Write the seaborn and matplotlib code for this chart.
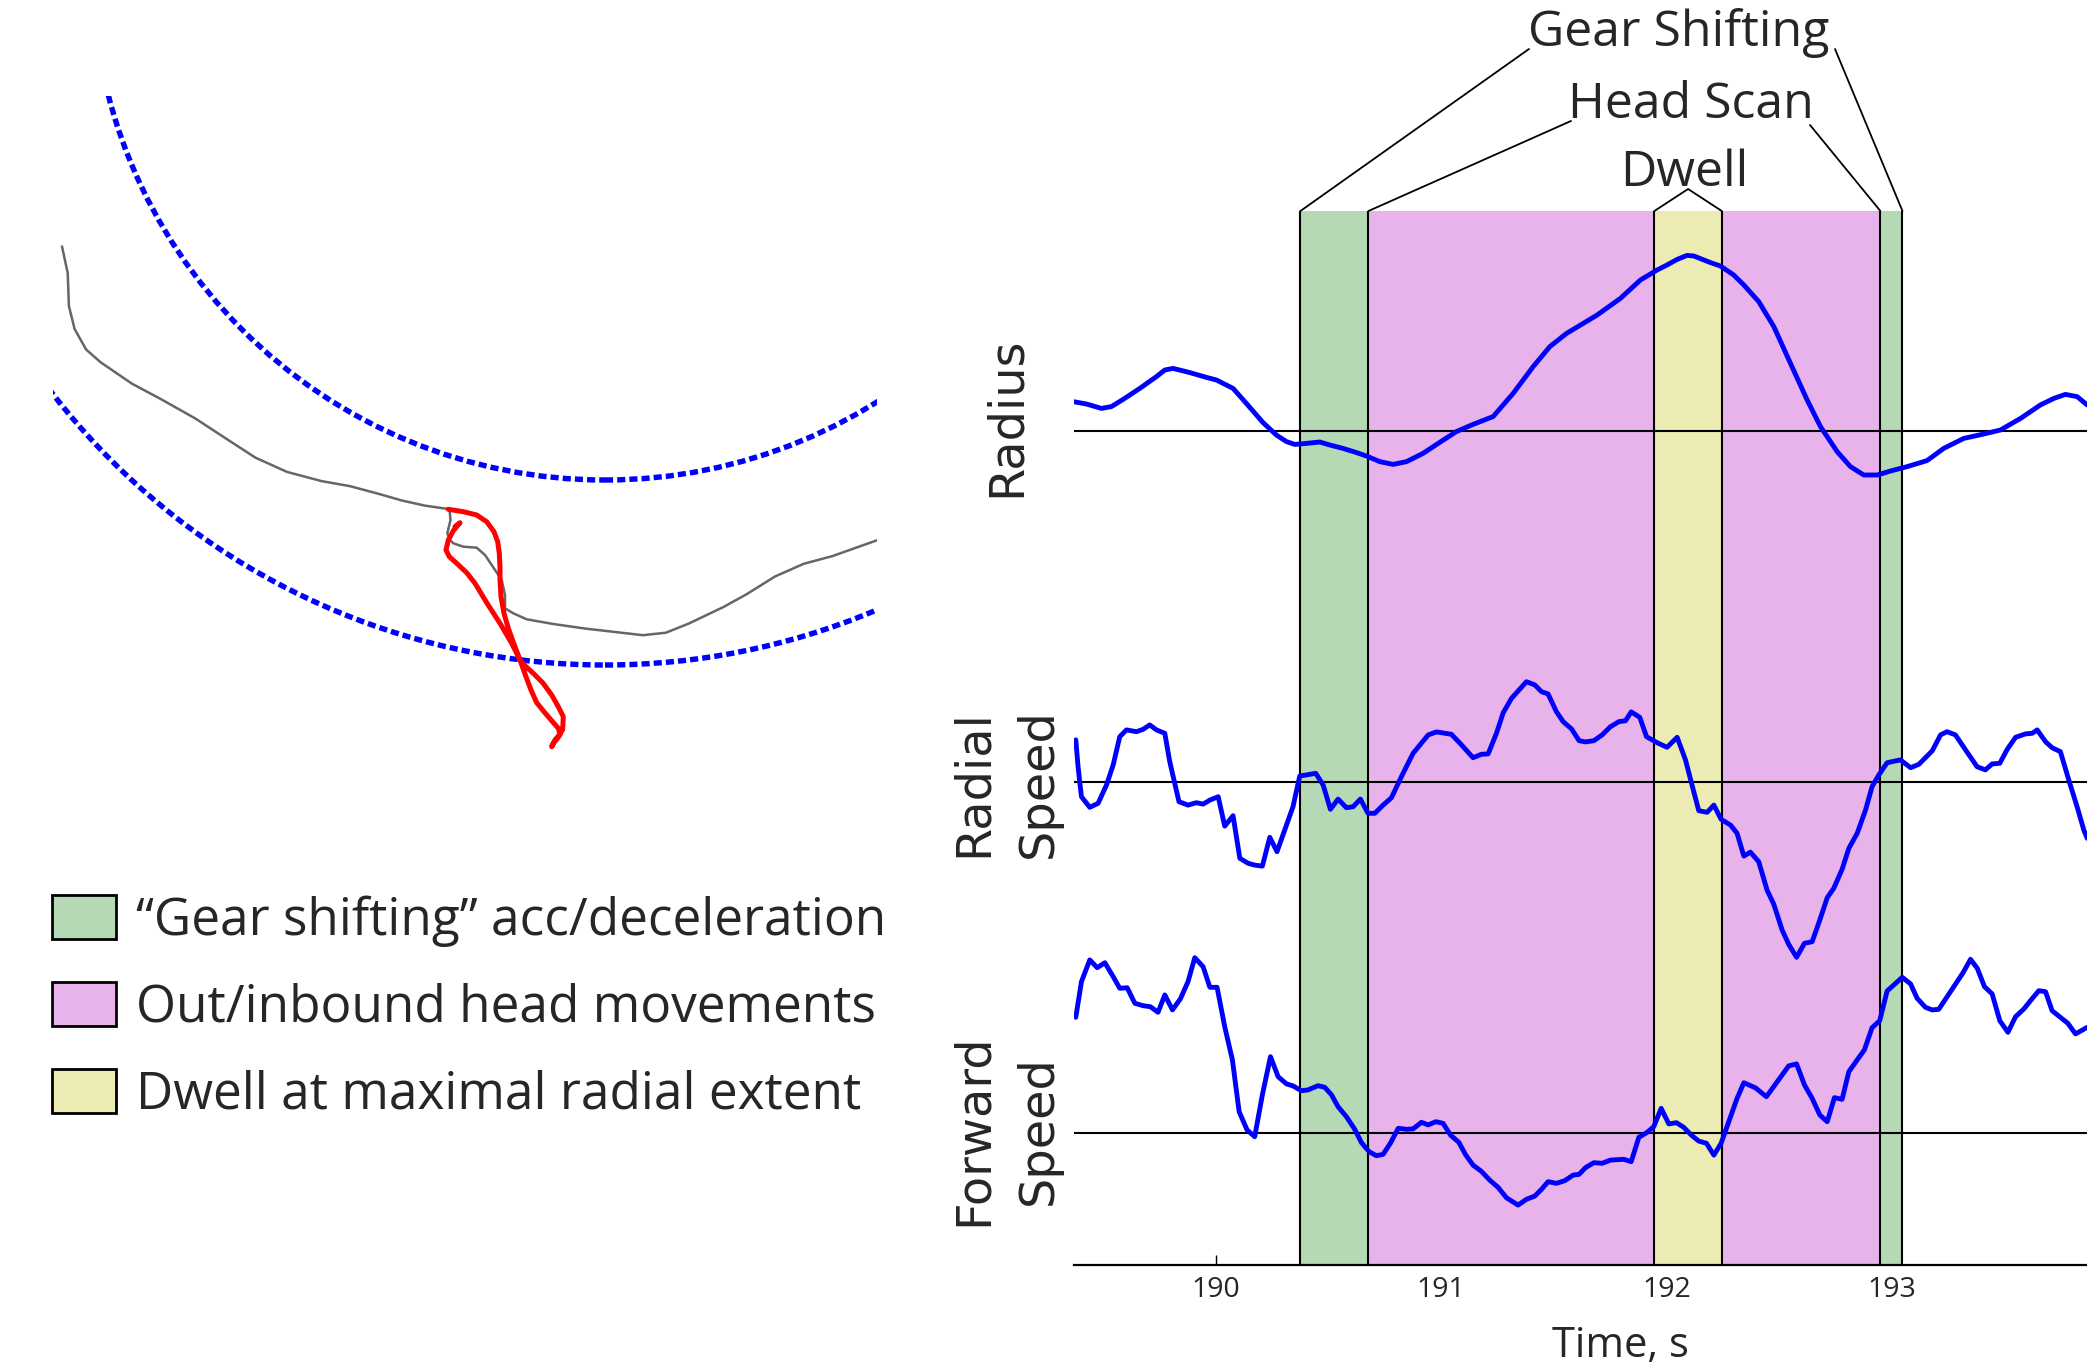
import matplotlib
matplotlib.use("Agg")
import matplotlib.pyplot as plt
import seaborn as sns
from matplotlib.patches import Circle, Patch
from matplotlib.lines import Line2D

# ---------------------------------------------------------------- data
# Time axis (s)
time_ticks = [190, 191, 192, 193]
time_range = (189.371, 193.867)

# Behavioural epochs (s)
gear_spans = [(190.376, 190.678), (192.950, 193.048)]
scan_span = (190.678, 192.950)
dwell_span = (191.947, 192.246)

# Radius (relative to the reference radius)
radius_time = [189.367, 189.426, 189.493, 189.537, 189.589, 189.663, 189.737, 189.774, 189.811, 189.885,
               189.959, 190.003, 190.077, 190.136, 190.210, 190.269, 190.314, 190.351, 190.403, 190.462,
               190.506, 190.565, 190.625, 190.669, 190.728, 190.787, 190.847, 190.920, 190.994, 191.068,
               191.142, 191.231, 191.320, 191.409, 191.483, 191.557, 191.631,
               191.693, 191.796, 191.885, 191.959, 192.003, 192.048, 192.092, 192.122, 192.196, 192.240,
               192.299, 192.344, 192.410, 192.477, 192.551, 192.625, 192.684, 192.758, 192.817, 192.876,
               192.936, 192.995, 193.069, 193.157, 193.231, 193.320, 193.409, 193.483, 193.572, 193.660,
               193.720, 193.771, 193.823, 193.868]
radius_value = [1.47, 1.35, 1.13, 1.22, 1.58, 2.13, 2.72, 3.05, 3.13, 2.92,
                2.68, 2.55, 2.13, 1.38, 0.42, -0.20, -0.53, -0.67, -0.62, -0.55,
                -0.70, -0.87, -1.08, -1.25, -1.53, -1.67, -1.53, -1.12, -0.57, -0.03,
                0.33, 0.72, 1.88, 3.22, 4.22, 4.88, 5.38,
                5.80, 6.63, 7.55, 8.05, 8.30, 8.58, 8.78, 8.75, 8.42, 8.25,
                7.80, 7.30, 6.47, 5.22, 3.38, 1.55, 0.22, -1.03, -1.78, -2.20,
                -2.20, -2.00, -1.78, -1.48, -0.87, -0.37, -0.15, 0.05, 0.63, 1.30,
                1.63, 1.83, 1.72, 1.30]

# Radial speed
radial_time = [189.379, 189.389, 189.404, 189.441, 189.478, 189.515, 189.545, 189.574, 189.604, 189.648,
               189.678, 189.707, 189.737, 189.774, 189.796, 189.818, 189.837, 189.877, 189.914, 189.944,
               189.974, 190.011, 190.040, 190.077, 190.107, 190.144, 190.173, 190.207, 190.240, 190.272,
               190.306, 190.343, 190.373, 190.403, 190.444, 190.477, 190.509, 190.543, 190.580, 190.610,
               190.642, 190.676, 190.706, 190.743, 190.780, 190.824, 190.876, 190.943, 190.980, 191.046,
               191.091, 191.142, 191.179, 191.209, 191.246, 191.276, 191.313, 191.379, 191.416, 191.446,
               191.475, 191.512, 191.542, 191.579, 191.613,
               191.641, 191.678, 191.715, 191.752, 191.789, 191.819, 191.844, 191.882, 191.912, 191.959,
               192.003, 192.048, 192.085, 192.114, 192.144, 192.181, 192.211, 192.243, 192.285, 192.314,
               192.344, 192.373, 192.410, 192.447, 192.477, 192.514, 192.543, 192.578, 192.613, 192.647,
               192.681, 192.714, 192.743, 192.780, 192.810, 192.847, 192.884, 192.913, 192.943, 192.980,
               193.039, 193.084, 193.121, 193.180, 193.217, 193.246, 193.283, 193.328, 193.379, 193.416,
               193.446, 193.480, 193.513, 193.550, 193.594, 193.624, 193.646, 193.683, 193.712, 193.749,
               193.786, 193.823, 193.853, 193.868]
radial_value = [2.12, 0.78, -0.72, -1.25, -1.05, -0.14, 0.87, 2.28, 2.62, 2.53,
                2.65, 2.87, 2.62, 2.45, 1.03, -0.05, -0.97, -1.14, -1.02, -1.09,
                -0.89, -0.72, -2.19, -1.67, -3.80, -4.05, -4.14, -4.19, -2.75, -3.47,
                -2.39, -1.22, 0.32, 0.37, 0.45, -0.14, -1.35, -0.84, -1.27, -1.22,
                -0.84, -1.55, -1.55, -1.14, -0.77, 0.28, 1.45, 2.37, 2.52, 2.40,
                1.87, 1.23, 1.40, 1.42, 2.45, 3.48, 4.20, 5.03, 4.87, 4.53,
                4.42, 3.53, 3.03, 2.67, 2.08,
                2.02, 2.08, 2.37, 2.78, 3.03, 3.08, 3.52, 3.25, 2.28, 1.98,
                1.75, 2.25, 1.12, -0.14, -1.42, -1.50, -1.14, -1.85, -2.14, -2.55,
                -3.69, -3.49, -3.97, -5.39, -6.10, -7.39, -8.10, -8.75, -8.05, -7.97,
                -6.89, -5.77, -5.30, -4.35, -3.30, -2.55, -1.39, -0.22, 0.37, 0.98,
                1.12, 0.73, 0.90, 1.57, 2.37, 2.53, 2.37, 1.62, 0.78, 0.62,
                0.92, 0.95, 1.65, 2.25, 2.42, 2.45, 2.62, 2.03, 1.73, 1.53,
                0.12, -1.22, -2.39, -2.80]

# Forward speed
forward_time = [189.379, 189.404, 189.441, 189.474, 189.508, 189.545, 189.574, 189.607, 189.641, 189.678,
                189.710, 189.744, 189.774, 189.808, 189.843, 189.877, 189.907, 189.944, 189.974, 190.006,
                190.040, 190.074, 190.104, 190.139, 190.173, 190.207, 190.243, 190.277, 190.314, 190.343,
                190.380, 190.410, 190.454, 190.484, 190.514, 190.543, 190.580, 190.617, 190.647, 190.681,
                190.713, 190.743, 190.775, 190.810, 190.847, 190.876, 190.913, 190.943, 190.977, 191.009,
                191.042, 191.079, 191.110, 191.142, 191.179, 191.216, 191.253, 191.290, 191.342, 191.379,
                191.416, 191.446, 191.475, 191.512, 191.549, 191.586, 191.613,
                191.641, 191.678, 191.715, 191.752, 191.811, 191.844, 191.878, 191.915, 191.944, 191.977,
                192.011, 192.045, 192.077, 192.114, 192.144, 192.178, 192.211, 192.243, 192.277, 192.314,
                192.344, 192.396, 192.444, 192.492, 192.543, 192.578, 192.613, 192.647, 192.681, 192.714,
                192.746, 192.780, 192.810, 192.847, 192.879, 192.913, 192.947, 192.980, 193.010, 193.047,
                193.084, 193.113, 193.150, 193.180, 193.209, 193.246, 193.283, 193.317, 193.350, 193.380,
                193.412, 193.446, 193.480, 193.516, 193.550, 193.587, 193.616, 193.653, 193.683, 193.712,
                193.749, 193.782, 193.816, 193.868]
forward_value = [5.77, 7.55, 8.64, 8.25, 8.50, 7.80, 7.22, 7.25, 6.47, 6.35,
                 6.30, 6.02, 6.89, 6.14, 6.69, 7.55, 8.75, 8.30, 7.27, 7.27,
                 5.30, 3.64, 1.05, 0.14, -0.20, 1.89, 3.80, 2.80, 2.44, 2.34,
                 2.10, 2.14, 2.35, 2.27, 1.89, 1.30, 0.80, 0.17, -0.50, -0.95,
                 -1.15, -1.08, -0.53, 0.22, 0.17, 0.19, 0.52, 0.39, 0.55, 0.47,
                 -0.12, -0.48, -1.12, -1.62, -1.93, -2.37, -2.73, -3.25, -3.62, -3.33,
                 -3.17, -2.83, -2.45, -2.53, -2.40, -2.12, -2.08,
                 -1.75, -1.50, -1.53, -1.37, -1.33, -1.45, -0.23, 0.02, 0.30, 1.22,
                 0.44, 0.50, 0.27, -0.15, -0.42, -0.53, -1.12, -0.53, 0.55, 1.72,
                 2.50, 2.24, 1.80, 2.55, 3.34, 3.44, 2.39, 1.72, 0.89, 0.55,
                 1.75, 1.67, 3.05, 3.64, 4.14, 5.25, 5.60, 7.09, 7.39, 7.77,
                 7.44, 6.72, 6.27, 6.14, 6.17, 6.80, 7.42, 8.00, 8.67, 8.22,
                 7.30, 6.94, 5.60, 5.02, 5.80, 6.19, 6.60, 7.10, 7.05, 6.10,
                 5.77, 5.47, 4.94, 5.27]

# Arena (cm, centre at origin): track walls and trajectories
arena_radii = [51.3, 69.8]
body_x = [-54.30, -53.73, -53.61, -53.04, -51.89, -50.45, -47.30, -44.43, -40.98, -38.11,
          -34.95, -31.80, -28.35, -25.48, -22.61, -20.32, -18.02, -15.55, -15.45, -15.77,
          -15.50, -15.17, -14.17, -12.83, -12.00, -11.33, -10.33, -10.00, -10.00, -9.17,
          -7.83, -5.17, -1.95, 3.80, 6.10, 8.39, 11.83, 14.13, 17.00, 19.87,
          22.74, 25.61, 27.20]
body_y = [-27.94, -30.60, -33.90, -36.20, -38.25, -39.52, -41.67, -43.20, -45.14, -47.02,
          -49.07, -50.49, -51.41, -51.92, -52.69, -53.35, -53.86, -54.22, -55.30, -56.63,
          -57.30, -57.63, -57.97, -58.07, -58.80, -59.80, -61.30, -62.80, -64.13, -64.63,
          -65.23, -65.70, -66.16, -66.82, -66.57, -65.65, -64.01, -62.74, -60.95, -59.68,
          -58.91, -57.89, -57.33]
head_x = [-15.67, -14.17, -12.83, -11.83, -11.10, -10.73, -10.57, -10.50, -10.50, -10.40,
          -10.10, -9.67, -9.07, -8.50, -7.90, -7.40, -6.83, -6.10, -5.33, -4.67,
          -4.50, -5.00, -5.33, -5.17, -4.67, -4.23, -4.17, -4.67, -5.33, -6.23,
          -7.17, -7.90, -8.50, -9.33, -10.50, -11.83, -13.00, -13.83, -14.83, -15.57,
          -15.90, -15.67, -15.17, -14.50, -15.00]
head_y = [-54.23, -54.47, -54.80, -55.47, -56.47, -57.47, -58.63, -59.97, -61.30, -62.97,
          -64.63, -66.13, -67.80, -69.30, -70.97, -72.30, -73.57, -74.47, -75.37, -76.13,
          -76.70, -77.30, -77.97, -77.63, -77.03, -76.23, -74.97, -73.97, -72.80, -71.57,
          -70.63, -69.97, -69.30, -67.63, -65.63, -63.57, -61.63, -60.57, -59.63, -58.97,
          -58.30, -57.30, -56.37, -55.57, -55.97]

legend_labels = ["\u201cGear shifting\u201d acc/deceleration",
                 "Out/inbound head movements",
                 "Dwell at maximal radial extent"]

# ---------------------------------------------------------------- style
GREEN = "#b4d9b4"
MAGENTA = "#e8b3ea"
YELLOW = "#ebebb3"
BLUE = "#0000ff"

sns.set_theme(style="white")
plt.rcParams["font.family"] = ["Open Sans", "DejaVu Sans"]
plt.rcParams["axes.unicode_minus"] = False

W, H = 2087, 1368
fig = plt.figure(figsize=(W / 100, H / 100), dpi=100)
fig.patch.set_facecolor("white")


def pos(x0, y0, x1, y1):
    """Axes rectangle from pixel edges (top-left origin)."""
    return [x0 / W, 1 - y1 / H, (x1 - x0) / W, (y1 - y0) / H]


def fxy(x, y):
    return x / W, 1 - y / H


# ---------------------------------------------------------------- arena panel
ax_arena = fig.add_axes(pos(53, 96, 877, 776))
for r in arena_radii:
    ax_arena.add_patch(Circle((0, 0), r, fill=False, ec=BLUE, lw=3.9,
                              ls=(0, (1.5, 0.75))))
sns.lineplot(x=body_x, y=body_y, sort=False, estimator=None, ax=ax_arena,
             color="#666666", lw=1.8)
sns.lineplot(x=head_x, y=head_y, sort=False, estimator=None, ax=ax_arena,
             color="#ff0000", lw=3.6, solid_joinstyle="round", solid_capstyle="round")
ax_arena.set_xlim(-55.2, 27.2)
ax_arena.set_ylim(-80.9, -12.9)
ax_arena.set_axis_off()

handles = [Patch(facecolor=c, edgecolor="black", lw=2, label=l)
           for c, l in zip([GREEN, MAGENTA, YELLOW], legend_labels)]
fig.legend(handles=handles, loc="upper left", bbox_to_anchor=fxy(51.7, 895),
           frameon=False, fontsize=37, handlelength=1.25, handleheight=0.95,
           handletextpad=0.40, labelspacing=0.68, borderpad=0, borderaxespad=0)

# ---------------------------------------------------------------- time panel
ax_bg = fig.add_axes(pos(1074, 211, W, 1265))
ax_bg.set_facecolor("none")
ax_bg.axvspan(*scan_span, fc=MAGENTA, lw=0, zorder=1)
ax_bg.axvspan(*dwell_span, fc=YELLOW, lw=0, zorder=2)
for s in gear_spans:
    ax_bg.axvspan(*s, fc=GREEN, lw=0, zorder=2)
edges = sorted({*scan_span, *dwell_span, *[e for s in gear_spans for e in s]})
ax_bg.vlines(edges, 0, 1, colors="black", lw=1.5, zorder=3)
ax_bg.set_xlim(*time_range)
ax_bg.set_ylim(0, 1)
ax_bg.set_yticks([])
ax_bg.set_xticks(time_ticks)
ax_bg.set_xticklabels([str(t) for t in time_ticks])
ax_bg.tick_params(axis="x", direction="in", length=7, width=1, color="black",
                  labelsize=20.5, pad=8, bottom=True)
for side in ["left", "right", "top"]:
    ax_bg.spines[side].set_visible(False)
ax_bg.spines["bottom"].set_color("black")
ax_bg.spines["bottom"].set_linewidth(1.6)
ax_bg.set_xlabel("Time, s", fontsize=30, labelpad=15, x=0.539)
ax_bg.grid(False)

rows = [
    (radius_time, radius_value, (230, 500), (-3.45, 10.05)),
    (radial_time, radial_value, (650, 980), (-9.885, 6.615)),
    (forward_time, forward_value, (930, 1220), (-4.365, 10.135)),
]
for t, v, (ytop, ybot), lim in rows:
    ax = fig.add_axes(pos(1074, ytop, W, ybot))
    ax.set_facecolor("none")
    ax.axhline(0, color="black", lw=1.5, zorder=1)
    sns.lineplot(x=t, y=v, ax=ax, color=BLUE, lw=3.5, zorder=3, legend=False)
    ax.set_xlim(*time_range)
    ax.set_ylim(*lim)
    ax.set_axis_off()

label_kw = dict(rotation=90, ha="center", va="center", multialignment="center",
                fontsize=34.5, family="DejaVu Sans", linespacing=1.5)
fig.text(*fxy(1006, 417), "Radius", **label_kw)
fig.text(*fxy(1006, 783), "Radial\nSpeed", **label_kw)
fig.text(*fxy(1006, 1130), "Forward\nSpeed", **label_kw)

# ---------------------------------------------------------------- epoch callouts
to_fig = ax_bg.get_xaxis_transform() + fig.transFigure.inverted()


def leader(t_edge, x_px, y_px):
    x0, y0 = to_fig.transform((t_edge, 1.0))
    x1, y1 = fxy(x_px, y_px)
    fig.add_artist(Line2D([x0, x1], [y0, y1], color="black", lw=1.3))


leader(gear_spans[0][0], 1529, 49)
leader(gear_spans[1][1], 1835, 49)
leader(scan_span[0], 1571, 121)
leader(scan_span[1], 1810, 125)
xa, ya = to_fig.transform((dwell_span[0], 1.0))
xb, yb = to_fig.transform((dwell_span[1], 1.0))
xm, _ = to_fig.transform((0.5 * (dwell_span[0] + dwell_span[1]), 1.0))
fig.add_artist(Line2D([xa, xm, xb], [ya, 1 - 189 / H, yb], color="black", lw=1.3))

fig.text(*fxy(1679, 46), "Gear Shifting", ha="center", va="baseline", fontsize=36)
fig.text(*fxy(1691, 118), "Head Scan", ha="center", va="baseline", fontsize=36)
fig.text(*fxy(1684, 186), "Dwell", ha="center", va="baseline", fontsize=36)

fig.savefig("out.png", dpi=100, facecolor="white")
